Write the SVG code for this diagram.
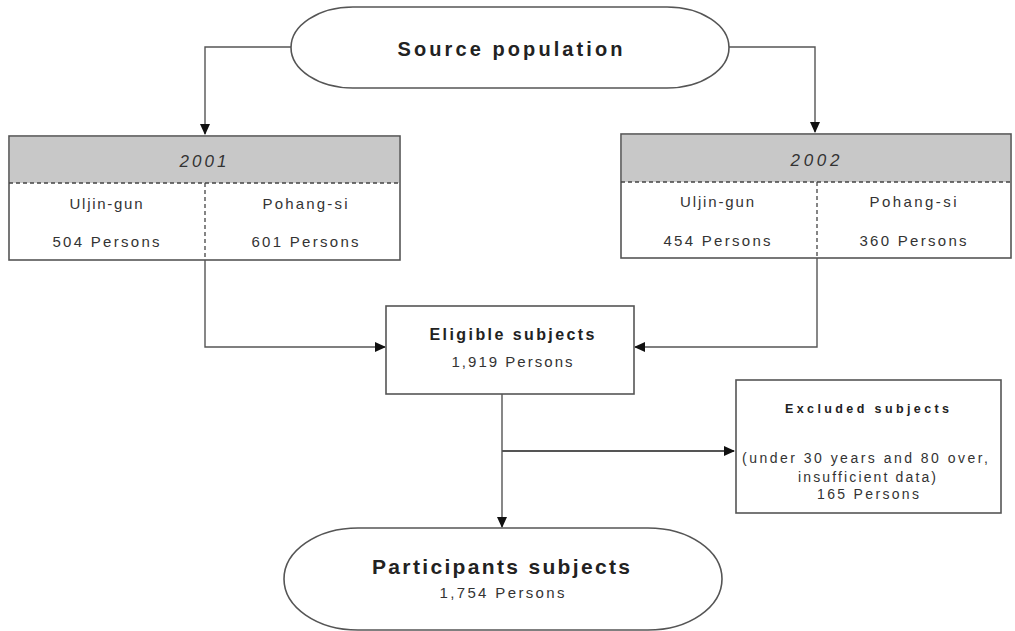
<svg xmlns="http://www.w3.org/2000/svg" width="1015" height="631" viewBox="0 0 1015 631">
<defs>
<marker id="arr" markerUnits="userSpaceOnUse" markerWidth="11" markerHeight="10" refX="10" refY="5" orient="auto">
<path d="M0,0 L11,5 L0,10 z" fill="#111"/>
</marker>
<style>
.t{font-family:"Liberation Sans",Arial,sans-serif;fill:#333;text-anchor:middle;}
.b{font-weight:bold;fill:#222;}
.box{fill:#fff;stroke:#555;stroke-width:1.6;}
.hdr{fill:#c8c8c8;stroke:none;}
.dash{stroke:#444;stroke-width:1.3;stroke-dasharray:4,3;fill:none;}
.conn{fill:none;stroke:#555;stroke-width:1.4;}
</style>
</defs>
<rect width="1015" height="631" fill="#fff"/>

<g id="connectors">
<path class="conn" d="M291,47 H205 V134" marker-end="url(#arr)"/>
<path class="conn" d="M729,47 H815 V132" marker-end="url(#arr)"/>
<path class="conn" d="M205,260 V347 H385" marker-end="url(#arr)"/>
<path class="conn" d="M817,258 V347 H635" marker-end="url(#arr)"/>
<path class="conn" d="M502,394 V527" marker-end="url(#arr)"/>
<path class="conn" d="M502,451 H734" marker-end="url(#arr)" style="stroke-width:2"/>
</g>

<g id="source">
<rect x="291" y="7" width="438" height="81" rx="62" ry="40.5" class="box"/>
<text x="510" y="56" class="t b" font-size="20" textLength="225" lengthAdjust="spacing">Source population</text>
</g>

<g id="y2001">
<rect x="9" y="136" width="391" height="124" class="box"/>
<rect x="10" y="137" width="389" height="46" class="hdr"/>
<line x1="9" y1="183" x2="400" y2="183" class="dash"/>
<line x1="205" y1="183" x2="205" y2="260" class="dash"/>
<text x="203" y="167" class="t" font-size="17" font-style="italic" textLength="47" lengthAdjust="spacing">2001</text>
<text x="106" y="209" class="t" font-size="15" textLength="73" lengthAdjust="spacing">Uljin-gun</text>
<text x="106" y="247" class="t" font-size="15" textLength="107" lengthAdjust="spacing">504 Persons</text>
<text x="305" y="209" class="t" font-size="15" textLength="85" lengthAdjust="spacing">Pohang-si</text>
<text x="305" y="247" class="t" font-size="15" textLength="107" lengthAdjust="spacing">601 Persons</text>
</g>

<g id="y2002">
<rect x="621" y="134" width="390" height="124" class="box"/>
<rect x="622" y="135" width="388" height="47" class="hdr"/>
<line x1="621" y1="182" x2="1011" y2="182" class="dash"/>
<line x1="817" y1="182" x2="817" y2="258" class="dash"/>
<text x="815" y="166" class="t" font-size="17" font-style="italic" textLength="49" lengthAdjust="spacing">2002</text>
<text x="717" y="207" class="t" font-size="15" textLength="74" lengthAdjust="spacing">Uljin-gun</text>
<text x="717" y="246" class="t" font-size="15" textLength="107" lengthAdjust="spacing">454 Persons</text>
<text x="913" y="207" class="t" font-size="15" textLength="87" lengthAdjust="spacing">Pohang-si</text>
<text x="913" y="246" class="t" font-size="15" textLength="107" lengthAdjust="spacing">360 Persons</text>
</g>

<g id="eligible">
<rect x="386" y="306" width="248" height="88" class="box"/>
<text x="512" y="340" class="t b" font-size="16" textLength="165" lengthAdjust="spacing">Eligible subjects</text>
<text x="512" y="367" class="t" font-size="15" textLength="121" lengthAdjust="spacing">1,919 Persons</text>
</g>

<g id="excluded">
<rect x="736" y="380" width="265" height="133" class="box"/>
<text x="867" y="413" class="t b" font-size="12.5" textLength="164" lengthAdjust="spacing">Excluded subjects</text>
<text x="865" y="463" class="t" font-size="14" textLength="246" lengthAdjust="spacing">(under 30 years and 80 over,</text>
<text x="867" y="482" class="t" font-size="14" textLength="138" lengthAdjust="spacing">insufficient data)</text>
<text x="868" y="499" class="t" font-size="14" textLength="102" lengthAdjust="spacing">165 Persons</text>
</g>

<g id="participants">
<rect x="284" y="528" width="438" height="102" rx="74" ry="51" class="box"/>
<text x="501" y="574" class="t b" font-size="21" textLength="258" lengthAdjust="spacing">Participants subjects</text>
<text x="502" y="598" class="t" font-size="15" textLength="125" lengthAdjust="spacing">1,754 Persons</text>
</g>
</svg>
